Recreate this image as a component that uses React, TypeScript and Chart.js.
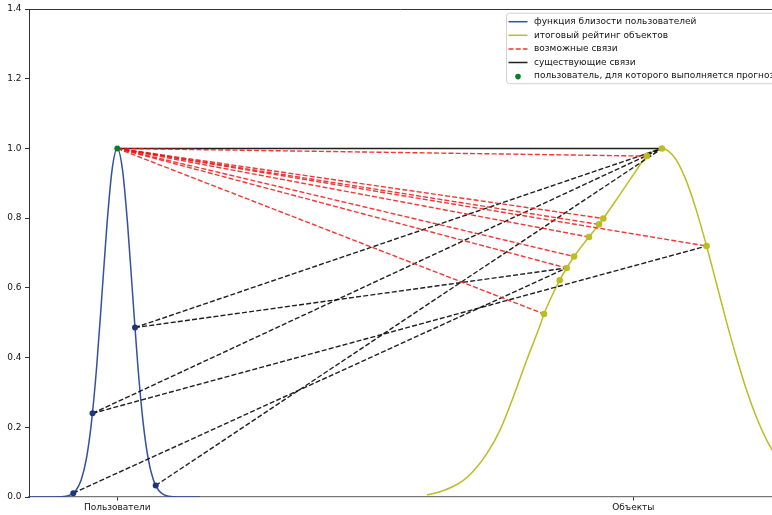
import { useEffect, useRef } from 'react';
import { Chart, registerables } from 'chart.js';

Chart.register(...registerables);

// ---- axis ticks ----
const xTickValues = [0, 10];
const xTickLabels = ['Пользователи', 'Объекты'];
const yTickValues = [0, 0.2, 0.4, 0.6, 0.8, 1.0, 1.2, 1.4];

// ---- user similarity curve ----
const userCurveX = [-1.71, -1.6, -1.5, -1.4, -1.3, -1.2, -1.1, -1.0, -0.9, -0.8, -0.7, -0.6, -0.5, -0.4, -0.3, -0.2, -0.1, 0, 0.1, 0.2, 0.3, 0.4, 0.5, 0.6, 0.7, 0.8, 0.9, 1.0, 1.1, 1.2, 1.3, 1.4, 1.5, 1.6];
const userCurveY = [0, 0, 0, 0, 0, 0.0001, 0.0006, 0.0021, 0.0069, 0.0195, 0.049, 0.109, 0.215, 0.373, 0.575, 0.782, 0.94, 1, 0.94, 0.782, 0.575, 0.373, 0.215, 0.109, 0.049, 0.0195, 0.0069, 0.0021, 0.0006, 0.0001, 0, 0, 0, 0];

// ---- object rating curve ----
const objectCurveX = [6.002, 6.254, 6.506, 6.7, 6.893, 7.165, 7.417, 7.669, 7.94, 8.192, 8.27, 8.386, 8.574, 8.709, 8.851, 9.141, 9.335, 9.419, 9.742, 10.0, 10.26, 10.556, 10.8, 11.0, 11.2, 11.42, 11.6, 11.8, 12.0, 12.2, 12.4, 12.6, 12.8];
const objectCurveY = [0.006, 0.015, 0.03, 0.047, 0.073, 0.125, 0.192, 0.285, 0.395, 0.492, 0.525, 0.565, 0.622, 0.657, 0.69, 0.746, 0.782, 0.799, 0.868, 0.924, 0.978, 1.0, 0.974, 0.917, 0.833, 0.72, 0.619, 0.506, 0.4, 0.304, 0.224, 0.159, 0.109];

// ---- users (first one is the target user) ----
const userX = [0, 0.343, -0.48, -0.853, 0.744];
const userY = [1.0, 0.486, 0.24, 0.011, 0.033];
const targetUser = 0;

// ---- objects ----
const objectX = [8.27, 8.574, 8.709, 8.851, 9.141, 9.335, 9.419, 10.26, 10.556, 11.42];
const objectY = [0.525, 0.622, 0.657, 0.69, 0.746, 0.782, 0.799, 0.978, 1.0, 0.72];

// ---- links ----
const possibleLinks = [0, 2, 3, 4, 5, 6, 7, 9]; // objects for the target user
const targetExistingLinks = [8];
const otherExistingLinks: [number, number][] = [[1, 8], [1, 2], [2, 8], [2, 9], [3, 2], [4, 8]];

const legendLabels = [
  'функция близости пользователей',
  'итоговый рейтинг объектов',
  'возможные связи',
  'существующие связи',
  'пользователь, для которого выполняется прогноз',
];

const BLUE = '#34509f';
const OLIVE = '#bcbd22';
const RED = 'rgba(240,20,20,0.85)';
const BLACK = 'rgba(0,0,0,0.88)';
const GREEN = '#0a7d28';
const FONT = { family: 'DejaVu Sans', size: 9 };

const topSpine = {
  id: 'topSpine',
  afterDatasetsDraw(chart: any) {
    const { ctx, chartArea } = chart;
    ctx.save();
    ctx.strokeStyle = '#333';
    ctx.lineWidth = 1;
    ctx.beginPath();
    ctx.moveTo(chartArea.left, Math.round(chartArea.top) + 0.5);
    ctx.lineTo(chartArea.right, Math.round(chartArea.top) + 0.5);
    ctx.stroke();
    ctx.restore();
  },
};

const refLegend = {
  id: 'refLegend',
  afterDraw(chart: any) {
    const { ctx, chartArea } = chart;
    const x0 = chartArea.left + 477;
    const y0 = chartArea.top + 3.7;
    ctx.save();
    ctx.fillStyle = 'rgba(255,255,255,0.85)';
    ctx.strokeStyle = '#d0d0d0';
    ctx.lineWidth = 1;
    ctx.beginPath();
    (ctx as any).roundRect(x0 + 0.5, y0 + 0.5, 320, 70.5, 3);
    ctx.fill();
    ctx.stroke();
    ctx.font = `${FONT.size}px ${FONT.family}`;
    ctx.textBaseline = 'middle';
    ctx.textAlign = 'left';
    legendLabels.forEach((label, i) => {
      const y = y0 + 9 + i * 13.6;
      const lx0 = x0 + 2.5;
      const lx1 = x0 + 21.5;
      ctx.setLineDash([]);
      ctx.lineWidth = 1.5;
      if (i === 0) ctx.strokeStyle = BLUE;
      if (i === 1) ctx.strokeStyle = OLIVE;
      if (i === 2) { ctx.strokeStyle = RED; ctx.setLineDash([5, 2.2]); }
      if (i === 3) ctx.strokeStyle = BLACK;
      if (i < 4) {
        ctx.beginPath();
        ctx.moveTo(lx0, y);
        ctx.lineTo(lx1, y);
        ctx.stroke();
      } else {
        ctx.fillStyle = GREEN;
        ctx.beginPath();
        ctx.arc((lx0 + lx1) / 2, y + 0.5, 2.8, 0, Math.PI * 2);
        ctx.fill();
      }
      ctx.setLineDash([]);
      ctx.fillStyle = '#111';
      ctx.fillText(label, x0 + 28, y);
    });
    ctx.restore();
  },
};

function segment(x1: number, y1: number, x2: number, y2: number, color: string, dash: number[]) {
  return {
    type: 'scatter' as const,
    data: [{ x: x1, y: y1 }, { x: x2, y: y2 }],
    showLine: true,
    borderColor: color,
    borderWidth: 1.4,
    borderDash: dash,
    pointRadius: 0,
    tension: 0,
    order: 2,
  };
}

export default function App() {
  const ref = useRef<HTMLCanvasElement>(null);

  useEffect(() => {
    if (!ref.current) return;
    const datasets: any[] = [];

    datasets.push({
      data: userCurveX.map((x, i) => ({ x, y: userCurveY[i] })),
      showLine: true,
      borderColor: BLUE,
      borderWidth: 1.5,
      pointRadius: 0,
      cubicInterpolationMode: 'monotone',
      order: 3,
    });
    datasets.push({
      data: objectCurveX.map((x, i) => ({ x, y: objectCurveY[i] })),
      showLine: true,
      borderColor: OLIVE,
      borderWidth: 1.5,
      pointRadius: 0,
      cubicInterpolationMode: 'monotone',
      order: 3,
    });

    possibleLinks.forEach((o) => {
      datasets.push(segment(userX[targetUser], userY[targetUser], objectX[o], objectY[o], RED, [5, 2.2]));
    });
    targetExistingLinks.forEach((o) => {
      datasets.push(segment(userX[targetUser], userY[targetUser], objectX[o], objectY[o], BLACK, []));
    });
    otherExistingLinks.forEach(([u, o]) => {
      datasets.push(segment(userX[u], userY[u], objectX[o], objectY[o], BLACK, [5, 2.2]));
    });

    datasets.push({
      data: objectX.map((x, i) => ({ x, y: objectY[i] })),
      backgroundColor: OLIVE,
      borderColor: OLIVE,
      pointRadius: 3.3,
      pointBorderWidth: 0,
      order: 1,
    });
    datasets.push({
      data: userX.map((x, i) => ({ x, y: userY[i] })).filter((_, i) => i !== targetUser),
      backgroundColor: '#1f3579',
      borderColor: '#1f3579',
      pointRadius: 3,
      pointBorderWidth: 0,
      order: 1,
    });
    datasets.push({
      data: [{ x: userX[targetUser], y: userY[targetUser] }],
      backgroundColor: GREEN,
      borderColor: GREEN,
      pointRadius: 3,
      pointBorderWidth: 0,
      order: 1,
    });

    const chart = new Chart(ref.current, {
      type: 'scatter',
      data: { datasets },
      options: {
        animation: false,
        responsive: false,
        maintainAspectRatio: false,
        layout: { autoPadding: false, padding: { top: 9, right: 0, left: 0, bottom: 0 } },
        plugins: { legend: { display: false }, tooltip: { enabled: false } },
        scales: {
          x: {
            type: 'linear',
            min: -1.711,
            max: 12.688,
            afterBuildTicks: (s: any) => { s.ticks = xTickValues.map((v) => ({ value: v })); },
            afterFit: (s: any) => { s.height = 18; s.paddingLeft = 0; s.paddingRight = 0; },
            ticks: {
              autoSkip: false,
              maxRotation: 0,
              padding: 1.5,
              color: '#111',
              font: FONT,
              callback: (v: any) => {
                const i = xTickValues.indexOf(Number(v));
                return i >= 0 ? xTickLabels[i] : '';
              },
            },
            grid: { drawOnChartArea: false, drawTicks: true, tickLength: 3.5, color: '#333' },
            border: { color: '#777', width: 1.2 },
          },
          y: {
            min: 0,
            max: 1.4,
            afterBuildTicks: (s: any) => { s.ticks = yTickValues.map((v) => ({ value: v })); },
            afterFit: (s: any) => { s.width = 29; },
            ticks: {
              padding: 3.5,
              color: '#111',
              font: FONT,
              callback: (v: any) => Number(v).toFixed(1),
            },
            grid: { drawOnChartArea: false, drawTicks: true, tickLength: 4, color: '#333' },
            border: { color: '#333', width: 1 },
          },
        },
      },
      plugins: [topSpine, refLegend],
    });
    return () => chart.destroy();
  }, []);

  return (
    <div style={{ position: 'fixed', left: 0, top: 0, width: 772, height: 515, background: '#fff' }}>
      <canvas ref={ref} width={772} height={515} style={{ display: 'block' }} />
    </div>
  );
}
